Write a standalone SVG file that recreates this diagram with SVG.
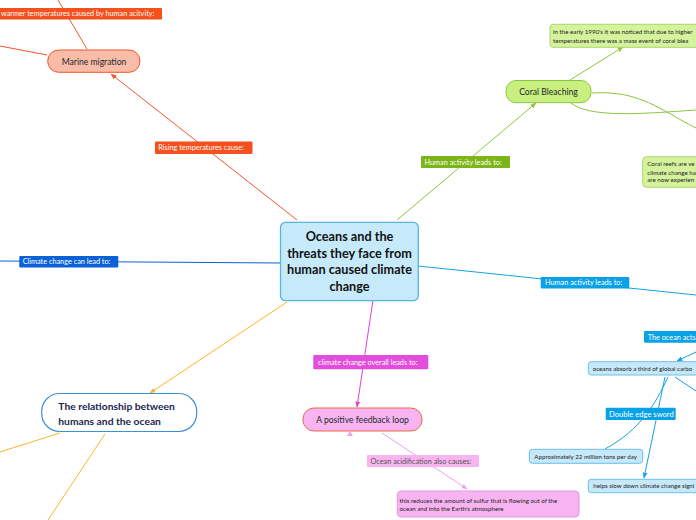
<svg xmlns="http://www.w3.org/2000/svg" width="696" height="520" viewBox="0 0 696 520">
<style>
text{font-family:Lato,"Noto Sans","DejaVu Sans",sans-serif}
.lbl{font-size:7.3px;fill:#ffffff}
.node{font-size:8.6px;fill:#1a2a2a}
.note{font-size:6.2px;fill:#222}
.c{fill:none;stroke-width:1}
</style>
<defs>
<marker id="aO" viewBox="0 0 10 10" refX="9" refY="5" markerWidth="6" markerHeight="6" orient="auto"><path d="M0,1 L10,5 L0,9 z" fill="#f0562a"/></marker>
<marker id="aG" viewBox="0 0 10 10" refX="9" refY="5" markerWidth="6" markerHeight="6" orient="auto"><path d="M0,1 L10,5 L0,9 z" fill="#8cc63f"/></marker>
<marker id="aB" viewBox="0 0 10 10" refX="9" refY="5" markerWidth="6" markerHeight="6" orient="auto"><path d="M0,1 L10,5 L0,9 z" fill="#16a1e3"/></marker>
<marker id="aM" viewBox="0 0 10 10" refX="9" refY="5" markerWidth="6" markerHeight="6" orient="auto"><path d="M0,1 L10,5 L0,9 z" fill="#e040d8"/></marker>
<marker id="aP" viewBox="0 0 10 10" refX="9" refY="5" markerWidth="6" markerHeight="6" orient="auto"><path d="M0,1 L10,5 L0,9 z" fill="#f0a0ee"/></marker>
<marker id="aY" viewBox="0 0 10 10" refX="9" refY="5" markerWidth="6" markerHeight="6" orient="auto"><path d="M0,1 L10,5 L0,9 z" fill="#f9b52a"/></marker>
</defs>

<g id="connectors">
<line class="c" x1="58" y1="0" x2="87" y2="49" stroke="#f0562a"/>
<line class="c" x1="0" y1="46" x2="47" y2="55" stroke="#f0562a"/>
<line class="c" x1="297" y1="220" x2="111" y2="74" stroke="#f0562a" marker-end="url(#aO)"/>
<line class="c" x1="397" y1="220" x2="536" y2="103" stroke="#8cc63f" marker-end="url(#aG)"/>
<line class="c" x1="570" y1="80" x2="623" y2="47" stroke="#8cc63f" marker-end="url(#aG)"/>
<path class="c" d="M592,93 C640,90 660,110 696,128" stroke="#8cc63f"/>
<path class="c" d="M571,103 C590,118 640,114 696,110" stroke="#8cc63f"/>
<line class="c" x1="281" y1="263" x2="0" y2="261" stroke="#0b62d6"/>
<line class="c" x1="418" y1="266" x2="696" y2="295" stroke="#16a1e3"/>
<line class="c" x1="696" y1="352" x2="677" y2="361" stroke="#16a1e3" marker-end="url(#aB)"/>
<line class="c" x1="675" y1="377" x2="696" y2="391" stroke="#16a1e3"/>
<path class="c" d="M668,377 C655,405 640,430 605,449" stroke="#16a1e3"/>
<line class="c" x1="665" y1="377" x2="644" y2="478" stroke="#16a1e3" marker-end="url(#aB)"/>
<line class="c" x1="373" y1="300" x2="357" y2="407" stroke="#e040d8" marker-end="url(#aM)"/>
<line class="c" x1="382" y1="433" x2="467" y2="489" stroke="#f0a0ee" marker-end="url(#aP)"/>
<path d="M350,431 L347,436 L353,436 z" fill="#f0a0ee"/>
<line class="c" x1="287" y1="302" x2="150" y2="393" stroke="#f9b52a" marker-end="url(#aY)"/>
<line class="c" x1="60" y1="433" x2="0" y2="452" stroke="#f9b52a"/>
<line class="c" x1="105" y1="434" x2="48" y2="520" stroke="#f9b52a"/>
</g>

<g id="lbl-warmer"><rect x="-2" y="8" width="164" height="11.5" rx="1" fill="#f4511e"/><text class="lbl" x="1" y="16">warmer temperatures caused by human acitvity:</text></g>
<g id="lbl-rising"><rect x="155" y="141.5" width="97.5" height="12.5" rx="1" fill="#f4511e"/><text class="lbl" x="158.3" y="150.3">Rising temperatures cause:</text></g>
<g id="lbl-human1"><rect x="421" y="156" width="89" height="12" rx="1" fill="#7cb518"/><text class="lbl" x="424.5" y="164.5">Human activity leads to:</text></g>
<g id="lbl-climate"><rect x="19.3" y="256" width="99" height="11.5" rx="1" fill="#0b62d6"/><text class="lbl" x="22.7" y="264.3">Climate change can lead to:</text></g>
<g id="lbl-human2"><rect x="540.7" y="277" width="88.6" height="11.5" rx="1" fill="#0aa2e6"/><text class="lbl" x="545" y="285.3">Human activity leads to:</text></g>
<g id="lbl-oceanacts"><rect x="644" y="331" width="56" height="11.7" rx="1" fill="#0aa2e6"/><text class="lbl" x="647.7" y="339.5">The ocean acts</text></g>
<g id="lbl-sword"><rect x="605.7" y="407.7" width="70" height="12.3" rx="1" fill="#0aa2e6"/><text x="609" y="416.5" style="font-size:7.6px;fill:#fff">Double edge sword</text></g>
<g id="lbl-overall"><rect x="313.3" y="355" width="115" height="14.3" rx="1" fill="#e24ddb"/><text class="lbl" x="318" y="364.7">climate change overall leads to:</text></g>
<g id="lbl-acid"><rect x="367" y="455" width="112" height="12" rx="1" fill="#f7b4f0"/><text class="lbl" x="370.5" y="463.5" style="fill:#555">Ocean acidification also causes:</text></g>

<g id="central"><rect x="280.5" y="222.3" width="137.8" height="78.4" rx="5" fill="#c6eafa" stroke="#5ab4e0" stroke-width="1.3"/>
<text x="349.5" y="241" text-anchor="middle" font-size="12.7" font-weight="bold" fill="#111">Oceans and the</text>
<text x="349.5" y="257.5" text-anchor="middle" font-size="12.7" font-weight="bold" fill="#111">threats they face from</text>
<text x="349.5" y="274" text-anchor="middle" font-size="12.7" font-weight="bold" fill="#111">human caused climate</text>
<text x="349.5" y="290.5" text-anchor="middle" font-size="12.7" font-weight="bold" fill="#111">change</text></g>

<g id="marine"><rect x="47.7" y="50" width="92.3" height="22.3" rx="11" fill="#f9bca9" stroke="#f0562a"/><text class="node" x="94" y="64.5" text-anchor="middle">Marine migration</text></g>
<g id="coral"><rect x="506" y="80.5" width="85" height="22.2" rx="10" fill="#c9ef80" stroke="#8cc63f"/><text class="node" x="548.5" y="95" text-anchor="middle">Coral Bleaching</text></g>
<g id="coral-note1"><rect x="550" y="24.3" width="160" height="23" rx="3" fill="#d5f39c" stroke="#a9d86e"/><text class="note" x="553" y="33.8">in the early 1990's it was noticed that due to higher</text><text class="note" x="553" y="42.8">temperatures there was a mass event of coral blea</text></g>
<g id="coral-note2"><rect x="642.7" y="156.7" width="70" height="30.6" rx="4" fill="#d5f39c" stroke="#a9d86e"/><text class="note" x="647.3" y="166">Coral reefs are ve</text><text class="note" x="647.3" y="174.6">climate change ha</text><text class="note" x="647.3" y="182.3">are now experien</text></g>
<g id="absorb"><rect x="588.3" y="361.7" width="120" height="13.3" rx="3" fill="#c7e8f8" stroke="#6ac0ea"/><text class="note" x="592.7" y="370.5">oceans absorb a third of global carbo</text></g>
<g id="approx"><rect x="529.3" y="449.3" width="113.4" height="14" rx="3" fill="#c7e8f8" stroke="#6ac0ea"/><text class="note" x="534.3" y="458.5">Approximately 22 million tons per day</text></g>
<g id="helps"><rect x="588.3" y="479.3" width="120" height="13.4" rx="3" fill="#c7e8f8" stroke="#6ac0ea"/><text class="note" x="593.3" y="488.2">helps slow down climate change signi</text></g>
<g id="feedback"><rect x="303" y="408" width="119" height="23" rx="11" fill="#f7b4f0" stroke="#f06a4a"/><text class="node" x="362.5" y="422.8" text-anchor="middle">A positive feedback loop</text></g>
<g id="sulfur"><rect x="397.3" y="491" width="181.7" height="26" rx="4" fill="#f7b4f0" stroke="#d896ea"/><text class="note" x="399.5" y="502.5">this reduces the amount of sulfur that is flowing out of the</text><text class="note" x="399.5" y="510.5">ocean and into the Earth's atmosphere</text></g>
<g id="relationship"><rect x="41.7" y="393.5" width="155" height="38" rx="18" fill="#ffffff" stroke="#3d8fd6" stroke-width="1.2"/><text x="58.3" y="410" font-size="10.3" font-weight="bold" fill="#1a2550">The relationship between</text><text x="58.3" y="424.5" font-size="10.3" font-weight="bold" fill="#1a2550">humans and the ocean</text></g>
</svg>
